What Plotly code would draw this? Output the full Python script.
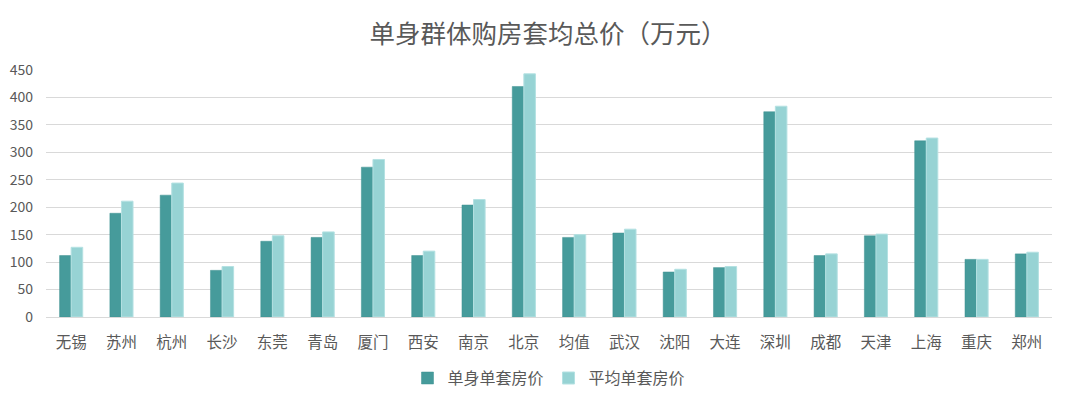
import plotly.graph_objects as go

cities = ["无锡", "苏州", "杭州", "长沙", "东莞", "青岛", "厦门", "西安", "南京", "北京",
          "均值", "武汉", "沈阳", "大连", "深圳", "成都", "天津", "上海", "重庆", "郑州"]
single_price = [112, 189, 222, 85, 138, 145, 273, 112, 204, 420,
                145, 153, 82, 90, 374, 112, 148, 321, 105, 115]
avg_price = [127, 211, 244, 92, 148, 155, 287, 120, 214, 443,
             150, 160, 87, 92, 384, 115, 151, 326, 105, 118]
y_ticks = [0, 50, 100, 150, 200, 250, 300, 350, 400, 450]

FONT = "Noto Sans CJK SC"
GREY = "#595959"

fig = go.Figure()
fig.add_trace(go.Bar(x=cities, y=single_price, name="单身单套房价",
                     marker=dict(color="#469B9B", line=dict(color="#3F9090", width=0.5))))
fig.add_trace(go.Bar(x=cities, y=avg_price, name="平均单套房价",
                     marker=dict(color="#97D3D4", line=dict(color="#B4E1E2", width=1))))

fig.update_layout(
    width=1080, height=395,
    margin=dict(l=38, r=36, t=62, b=86, autoexpand=False),
    paper_bgcolor="white", plot_bgcolor="white",
    font=dict(family=FONT, color=GREY, size=15),
    title=dict(text="单身群体购房套均总价（万元）", x=0.5, xanchor="center",
               y=0.935, yanchor="middle", font=dict(size=25.5, color=GREY, family=FONT)),
    barmode="group", bargap=0.54, bargroupgap=0,
    legend=dict(orientation="h", x=0.5, xanchor="center", yref="container", y=0.063,
                yanchor="middle", font=dict(size=16, color=GREY), itemwidth=30,
                traceorder="normal"),
    xaxis=dict(showgrid=False, showline=True, linecolor="#D9D9D9", linewidth=1,
               ticks="", automargin=False, ticklabelstandoff=11,
               tickfont=dict(size=15.5, color=GREY)),
    yaxis=dict(range=[0, 450], tickvals=y_ticks, showgrid=True, gridcolor="#D9D9D9",
               gridwidth=1, zeroline=False, showline=False, ticks="", automargin=False,
               ticklabelstandoff=12, tickfont=dict(size=14, color=GREY)),
)

fig.write_html("out.html")
